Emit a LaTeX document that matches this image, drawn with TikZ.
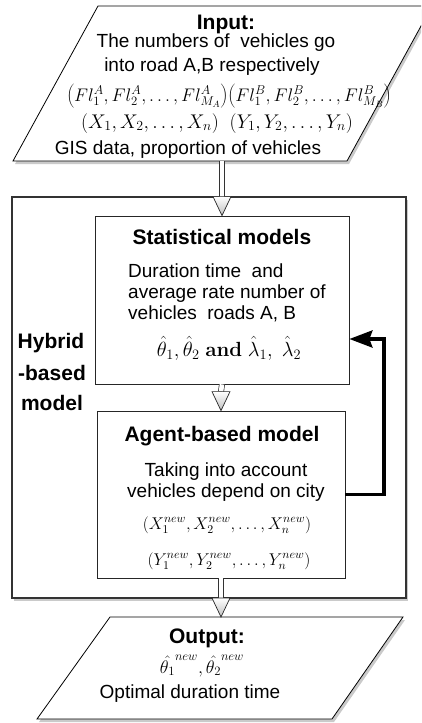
\RequirePackage{fix-cm}
\documentclass[tikz,border=0pt]{standalone}
\usepackage[no-math]{fontspec}
\setmainfont{Liberation Sans}
\usetikzlibrary{calc,arrows.meta,shadows}
\newcommand{\tf}{\fontsize{19}{22}\selectfont}
\newcommand{\ttl}{\fontsize{21}{24}\selectfont\bfseries}
\newcommand{\fsz}[1]{\fontsize{#1}{#1}\selectfont}
\tikzset{
  txt/.style={anchor=base, inner sep=0pt, font=\tf},
  ttlnode/.style={anchor=base, inner sep=0pt, font=\ttl},
  modelbox/.style={draw=black!85, line width=0.8pt, fill=white, inner sep=0pt},
  outerbox/.style={draw=black!80, line width=1.1pt, fill=white, inner sep=0pt,
     drop shadow={shadow xshift=2pt, shadow yshift=-3pt, opacity=0.35, fill=black!60}},
  iobox/.style={draw=black, line width=0.8pt, fill=white,
     drop shadow={shadow xshift=2pt, shadow yshift=-3pt, opacity=0.35, fill=black!60}},
  shaft/.style={draw=black!80, line width=0.7pt, double=white, double distance=4.6pt},
  hhead/.style={draw=black!85, line width=0.7pt, top color=white, bottom color=black!25},
  fb/.style={line width=3.6pt, -{Stealth[length=23pt,width=17pt,inset=3pt]}, line join=miter}
}
\newcommand{\harrow}[2]{%
  \draw[shaft] (#1) -- ($(#2)+(0,-19)$);
  \draw[hhead] ($(#2)+(-9,-19)$) -- ($(#2)+(9,-19)$) -- (#2) -- cycle;}
\begin{document}
\begin{tikzpicture}[x=1pt, y=-1pt]
\useasboundingbox (0,0) rectangle (421,723);
\begin{scope}
\clip (0,0) rectangle (421,723);
% outer hybrid box
\node[outerbox, minimum width=394pt, minimum height=401pt] (hyb) at (209,397.5) {};
% input parallelogram
\path[iobox] (98,6) -- (432,6) -- (347,161) -- (13,161) -- cycle;
\coordinate (inb) at (222,161);
% output parallelogram
\path[iobox] (110,617) -- (403,617) -- (332,719) -- (37,719) -- cycle;
\coordinate (outt) at (221,617);
\end{scope}
% inner boxes
\node[modelbox, minimum width=254pt, minimum height=168pt] (stat) at (222,300) {};
\node[modelbox, minimum width=248pt, minimum height=167pt] (agent) at (221,494.5) {};
% input texts
\node[ttlnode] (tin) at (226,29) {Input:};
\node[txt] (in1) at (216,47) {The numbers of\ \ vehicles go};
\node[txt] (in2) at (212,71) {into road A,B respectively};
\node[txt, font=\fsz{18.2}] (in3) at (229,101) {$\left(Fl_1^A, Fl_2^A, \ldots, Fl_{M_A}^A\right)\!\left(Fl_1^B, Fl_2^B, \ldots, Fl_{M_B}^B\right)$};
\node[txt, font=\fsz{19.8}] (in4) at (217,128) {$(X_1, X_2, \ldots, X_n)\ \ (Y_1, Y_2, \ldots, Y_n)$};
\node[txt] (in5) at (188,154) {GIS data, proportion of vehicles};
% hybrid label
\node[ttlnode] (h1) at (51,348) {Hybrid};
\node[ttlnode] (h2) at (52,380) {-based};
\node[ttlnode] (h3) at (52,410) {model};
% statistical texts
\node[ttlnode] (st0) at (222,244) {Statistical models};
\node[txt, anchor=base west] (st1) at (128,277) {Duration time\ \ and};
\node[txt, anchor=base west] (st2) at (128,298) {average rate number of};
\node[txt, anchor=base west] (st3) at (128,319) {vehicles\ \ roads A, B};
\node[txt, font=\fsz{20.5}] (st4) at (229,356) {$\hat{\theta}_1, \hat{\theta}_2\ \mathbf{and}\ \hat{\lambda}_1,\ \hat{\lambda}_2$};
% agent texts
\node[ttlnode] (ag0) at (222,441) {Agent-based model};
\node[txt] (ag1) at (226,476) {Taking into account};
\node[txt] (ag2) at (226,497) {vehicles depend on city};
\node[txt, font=\fsz{17}] (ag3) at (227,529) {$(X_1^{new}, X_2^{new}, \ldots, X_n^{new})$};
\node[txt, font=\fsz{17}] (ag4) at (229,565) {$(Y_1^{new}, Y_2^{new}, \ldots, Y_n^{new})$};
% output texts
\node[ttlnode] (out0) at (207,643) {Output:};
\node[txt, font=\fsz{18.2}] (out1) at (202,673) {$\hat{\theta_1}^{new}, \hat{\theta_2}^{new}$};
\node[txt] (out2) at (190,698) {Optimal duration time};
% arrows
\harrow{inb}{stat.north}
\harrow{stat.south}{agent.north}
\harrow{agent.south}{outt}
\coordinate (fbt) at (384,339);
\draw[fb] (agent.east) -| (fbt) -- (stat.east |- fbt);
\end{tikzpicture}
\end{document}
